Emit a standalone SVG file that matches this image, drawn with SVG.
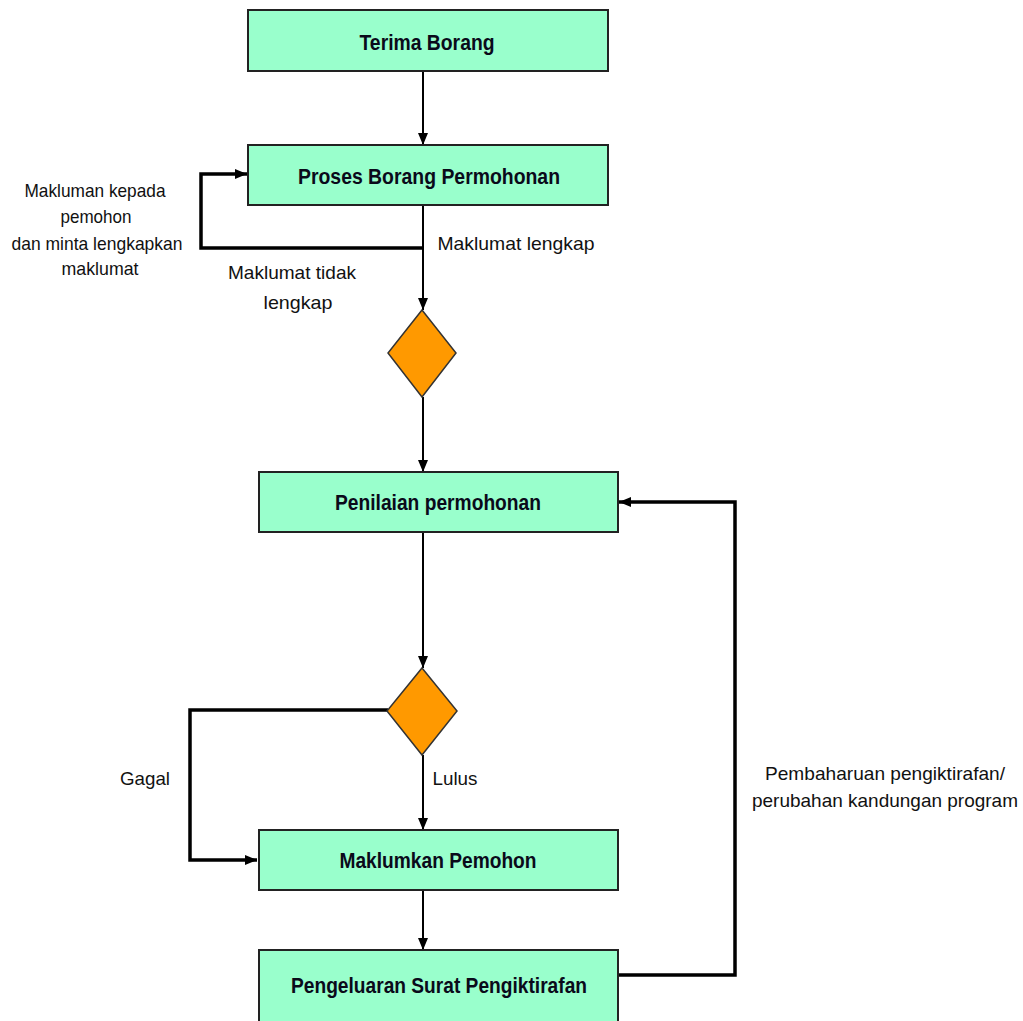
<svg xmlns="http://www.w3.org/2000/svg" width="1023" height="1021" viewBox="0 0 1023 1021">
<style>
.box{fill:#99FFCC;stroke:#222;stroke-width:2}
.dia{fill:#FF9900;stroke:#333;stroke-width:1.5}
.bt{font-family:"Liberation Sans",Arial,sans-serif;font-weight:bold;font-size:22px;fill:#0a0a1a;text-anchor:middle}
.lt{font-family:"Liberation Sans",Arial,sans-serif;font-size:19px;fill:#111;text-anchor:middle}
.ln{fill:none;stroke:#000;stroke-width:2}
.lk{fill:none;stroke:#000;stroke-width:3.5}
</style>
<defs>
<marker id="ah" markerWidth="12" markerHeight="12" viewBox="0 0 12 12" refX="12" refY="6" orient="auto" markerUnits="userSpaceOnUse">
<path d="M0,1 L12,6 L0,11 Z" fill="#000"/>
</marker>
</defs>
<rect width="1023" height="1021" fill="#fff"/>
<g id="connectors">
<path class="ln" d="M423,71 V145" marker-end="url(#ah)"/>
<path class="ln" d="M423,205 V310" marker-end="url(#ah)"/>
<path class="lk" d="M423,248 H201 V174 H247" marker-end="url(#ah)"/>
<path class="ln" d="M423,397 V472" marker-end="url(#ah)"/>
<path class="ln" d="M423,532 V668" marker-end="url(#ah)"/>
<path class="ln" d="M423,755 V830" marker-end="url(#ah)"/>
<path class="lk" d="M388,710 H190 V860 H257" marker-end="url(#ah)"/>
<path class="ln" d="M423,890 V950" marker-end="url(#ah)"/>
<path class="lk" d="M619,975 H735 V502 H619" marker-end="url(#ah)"/>
<text class="lt" x="516" y="250" textLength="157" lengthAdjust="spacingAndGlyphs">Maklumat lengkap</text>
<text class="lt" x="292" y="279" textLength="128" lengthAdjust="spacingAndGlyphs">Maklumat tidak</text>
<text class="lt" x="298" y="309" textLength="69" lengthAdjust="spacingAndGlyphs">lengkap</text>
<text class="lt" x="95" y="197" textLength="141" lengthAdjust="spacingAndGlyphs">Makluman kepada</text>
<text class="lt" x="96" y="223" textLength="71" lengthAdjust="spacingAndGlyphs">pemohon</text>
<text class="lt" x="97" y="250" textLength="171" lengthAdjust="spacingAndGlyphs">dan minta lengkapkan</text>
<text class="lt" x="100" y="275" textLength="77" lengthAdjust="spacingAndGlyphs">maklumat</text>
<text class="lt" x="145" y="785" textLength="50" lengthAdjust="spacingAndGlyphs">Gagal</text>
<text class="lt" x="455" y="785" textLength="45" lengthAdjust="spacingAndGlyphs">Lulus</text>
<text class="lt" x="885" y="780" textLength="240" lengthAdjust="spacingAndGlyphs">Pembaharuan pengiktirafan/</text>
<text class="lt" x="885" y="807" textLength="266" lengthAdjust="spacingAndGlyphs">perubahan kandungan program</text>
</g>
<g id="terima">
<rect class="box" x="248" y="10" width="360" height="61"/>
<text class="bt" x="427" y="50" textLength="135" lengthAdjust="spacingAndGlyphs">Terima Borang</text>
</g>
<g id="proses">
<rect class="box" x="248" y="145" width="360" height="60"/>
<text class="bt" x="429" y="184" textLength="262" lengthAdjust="spacingAndGlyphs">Proses Borang Permohonan</text>
</g>
<g id="diamond1">
<polygon class="dia" points="422,310 456,353 422,397 388,353"/>
</g>
<g id="penilaian">
<rect class="box" x="259" y="472" width="359" height="60"/>
<text class="bt" x="438" y="510" textLength="206" lengthAdjust="spacingAndGlyphs">Penilaian permohonan</text>
</g>
<g id="diamond2">
<polygon class="dia" points="422,668 457,711 422,755 387,711"/>
</g>
<g id="maklumkan">
<rect class="box" x="259" y="830" width="359" height="60"/>
<text class="bt" x="438" y="868" textLength="197" lengthAdjust="spacingAndGlyphs">Maklumkan Pemohon</text>
</g>
<g id="pengeluaran">
<rect class="box" x="259" y="950" width="359" height="80"/>
<text class="bt" x="439" y="993" textLength="296" lengthAdjust="spacingAndGlyphs">Pengeluaran Surat Pengiktirafan</text>
</g>
</svg>
